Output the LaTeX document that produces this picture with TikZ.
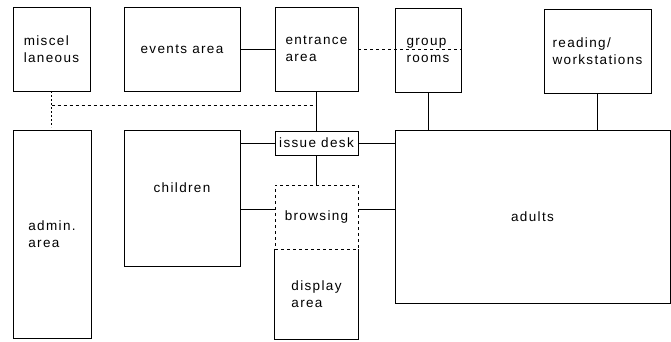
\documentclass[tikz,border=0pt]{standalone}
\usepackage{fontspec}
\setmainfont{Liberation Sans}[LetterSpace=10]
\usetikzlibrary{calc,positioning}

\begin{document}
\begin{tikzpicture}
	[x=1pt,y=-1pt,-,line width=0.9pt,
	every node/.style={font=\fontsize{13.5}{17}\selectfont,inner sep=0pt},
	room/.style={shape=rectangle,draw,align=left},
	dashedline/.style={dash pattern=on 3pt off 3pt},
	dottedline/.style={dash pattern=on 1.2pt off 2.8pt}]
	\useasboundingbox (0,0) rectangle (671,341);
	% top row
	\node[room,minimum width=77pt,minimum height=84pt] (misc) at (51.5,49) {miscel\\laneous};
	\node[room,minimum width=116pt,minimum height=84pt] (events) at (182,49) {events area};
	\node[room,minimum width=83pt,minimum height=84pt] (entrance) at (316.5,49) {entrance\\area};
	\node[room,minimum width=66pt,minimum height=84pt] (group) at (428,50) {group\\rooms};
	\node[room,minimum width=107pt,minimum height=84pt] (reading) at (597.5,51) {reading/\\workstations};

	% lower part
	\node[room,minimum width=78pt,minimum height=208pt] (admin) at (52,234) {admin.\\area};
	\node[room,minimum width=116pt,minimum height=136pt] (children) at (182,198) {};
	\node (childrentext) at ([yshift=10pt]children.center) {children};
	\node[room,minimum width=83pt,minimum height=24pt] (issue) at (316.5,143) {issue desk};
	\node[room,dashedline,minimum width=83pt,minimum height=64pt] (browsing) at (316.5,217) {browsing};
	\node[room,draw=none,minimum width=83pt,minimum height=90pt] (display) at (316.5,294) {display\\area};
	\draw (display.north west) -- (display.south west) -- (display.south east) -- (display.north east);
	\node[room,minimum width=275pt,minimum height=173pt] (adults) at (532.5,216.5) {adults};

	\path
	\foreach \startNode/\endNode in {events/entrance,entrance/issue,issue/browsing}
	{
		(\startNode) edge (\endNode)
	};
	\draw (group) -- (group |- adults.north);
	\draw (reading) -- (reading |- adults.north);
	\draw (issue) -- (issue -| children.east);
	\draw (issue) -- (issue -| adults.west);
	\draw ([yshift=8pt]browsing.west) -- ([yshift=8pt]browsing.west -| children.east);
	\draw ([yshift=8pt]browsing.east) -- ([yshift=8pt]browsing.east -| adults.west);

	% dashed links
	\draw[dashedline] (entrance.east) -- (entrance.east -| group.east);
	\draw[dottedline] (misc.south) -- ++(0,36);
	\draw[dashedline] ($(misc.south)+(0,14)$) -- ($(entrance.south)+(0,14)$);
\end{tikzpicture}
\end{document}
